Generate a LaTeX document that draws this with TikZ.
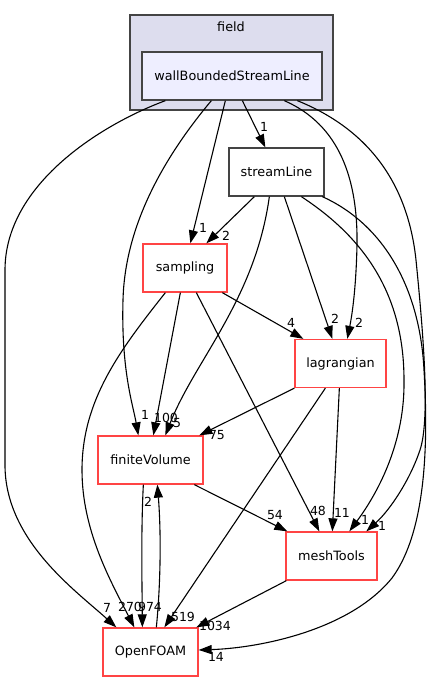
\documentclass[tikz,border=0pt]{standalone}
\usepackage{fontspec}
\setmainfont{DejaVu Sans}
\usetikzlibrary{arrows.meta}
\definecolor{clusterfill}{HTML}{DDDDEE}
\definecolor{dirfill}{HTML}{EEEEFF}
\definecolor{framegray}{HTML}{444444}
\definecolor{dirred}{HTML}{FF4444}
\tikzset{every path/.style={black,line width=1.1pt},
  dep/.style={-{Triangle[length=13pt,width=9pt]}},
  dir/.style={draw=dirred,line width=1.3pt,fill=white,inner sep=0pt,minimum height=48pt,font=\fontsize{12.8}{15}\selectfont},
  lbl/.style={inner sep=0pt,font=\fontsize{12.5}{14}\selectfont}}

\begin{document}
\begin{tikzpicture}[x=1pt,y=-1pt]
  \useasboundingbox (0,0) rectangle (434,681);
  \node[draw=framegray,fill=clusterfill,line width=1.1pt,minimum width=203pt,minimum height=95pt,inner sep=0pt] (field) at (231.5,62.5) {};
  \node[lbl,font=\fontsize{12.8}{15}\selectfont] (fieldname) at (231,27) {field};
  \node[dir,draw=framegray,fill=dirfill,minimum width=180pt] (wb) at (232,76) {wallBoundedStreamLine};
  \node[dir,draw=framegray,minimum width=95pt] (sl) at (276.5,172) {streamLine};
  \node[dir,minimum width=84pt] (samp) at (185,268) {sampling};
  \node[dir,minimum width=91pt] (lag) at (340.5,363.5) {lagrangian};
  \node[dir,minimum width=105pt] (fv) at (150.5,460) {finiteVolume};
  \node[dir,minimum width=91pt] (mesh) at (331.5,556) {meshTools};
  \node[dir,minimum width=95pt] (of) at (150.5,652) {OpenFOAM};

  \draw[dep] ([xshift=101pt]wb.south west) -- ([xshift=37pt]sl.north west);
  \draw[dep] ([xshift=84pt]wb.south west) -- ([xshift=48pt]samp.north west);
  \draw[dep] ([xshift=70pt]wb.south west) .. controls (170,150) and (125,220) .. (123,300)
        .. controls (121,370) and (133,405) .. ([xshift=41pt]fv.north west);
  \draw[dep] ([xshift=24pt]wb.south west) .. controls (100,125) and (5,185) .. (5,270) -- (5,465)
        .. controls (5,540) and (75,590) .. ([xshift=14pt]of.north west);
  \draw[dep] ([xshift=143pt]wb.south west) .. controls (340,125) and (358,180) .. (357,245)
        .. controls (356,290) and (352,315) .. ([xshift=53pt]lag.north west);
  \draw[dep] ([xshift=156pt]wb.south west) .. controls (370,130) and (408,185) .. (416,260)
        .. controls (424,340) and (430,420) .. (420,450)
        .. controls (410,480) and (390,510) .. ([xshift=81pt]mesh.north west);

  \draw[dep] ([xshift=26pt]sl.south west) -- ([xshift=64pt]samp.north west);
  \draw[dep] ([xshift=41pt]sl.south west) .. controls (255,300) and (195,360) .. ([xshift=68pt]fv.north west);
  \draw[dep] ([xshift=56pt]sl.south west) -- ([xshift=38pt]lag.north west);
  \draw[dep] ([xshift=73pt]sl.south west) .. controls (360,235) and (404,290) .. (404,380)
        .. controls (405,440) and (380,490) .. ([xshift=64pt]mesh.north west);
  \draw[dep] ([xshift=94pt]sl.south west) .. controls (385,225) and (420,290) .. (424,370)
        .. controls (430,470) and (420,540) .. (392,578)
        .. controls (350,630) and (260,648) .. ([yshift=2pt]of.east);

  \draw[dep] ([xshift=80pt]samp.south west) -- ([xshift=9pt]lag.north west);
  \draw[dep] ([xshift=38pt]samp.south west) -- ([xshift=56pt]fv.north west);
  \draw[dep] ([xshift=54pt]samp.south west) -- ([xshift=34pt]mesh.north west);
  \draw[dep] ([xshift=23pt]samp.south west) .. controls (120,350) and (82,400) .. (82,470)
        .. controls (82,530) and (110,580) .. ([xshift=32pt]of.north west);

  \draw[dep] (lag.south west) -- ([xshift=102pt]fv.north west);
  \draw[dep] ([xshift=31pt]lag.south west) -- ([xshift=62pt]of.north west);
  \draw[dep] ([xshift=45pt]lag.south west) -- ([xshift=47pt]mesh.north west);

  \draw[dep] ([xshift=97pt]fv.south west) -- ([xshift=2pt]mesh.north west);
  \draw[dep] ([xshift=46pt]fv.south west) .. controls (141,530) and (142,580) .. ([xshift=40pt]of.north west);
  \draw[dep] ([xshift=54pt]of.north west) .. controls (161,580) and (161,530) .. ([xshift=60pt]fv.south west);
  \draw[dep] ([xshift=1pt]mesh.south west) -- ([xshift=94pt]of.north west);

  \node[lbl] (wbsl) at (264,127) {1};
  \node[lbl] (wbsamp) at (203,228) {1};
  \node[lbl] (slsamp) at (226,236) {2};
  \node[lbl] (wbfv) at (145,415) {1};
  \node[lbl] (sampfv) at (166,418) {100};
  \node[lbl] (slfv) at (177,423) {5};
  \node[lbl] (lagfv) at (217,435) {75};
  \node[lbl] (samplag) at (291,323) {4};
  \node[lbl] (sllag) at (335,319) {2};
  \node[lbl] (wblag) at (359,323) {2};
  \node[lbl] (offv) at (148,502) {2};
  \node[lbl] (fvmesh) at (275,515) {54};
  \node[lbl] (sampmesh) at (318,511) {48};
  \node[lbl] (lagmesh) at (342,513) {11};
  \node[lbl] (slmesh) at (365,520) {1};
  \node[lbl] (wbmesh) at (382,526) {1};
  \node[lbl] (wbof) at (107,608) {7};
  \node[lbl] (sampof) at (130,607) {270};
  \node[lbl] (fvof) at (150,607) {974};
  \node[lbl] (lagof) at (183,617) {519};
  \node[lbl] (meshof) at (215,626) {1034};
  \node[lbl] (slof) at (216,657) {14};
\end{tikzpicture}
\end{document}
